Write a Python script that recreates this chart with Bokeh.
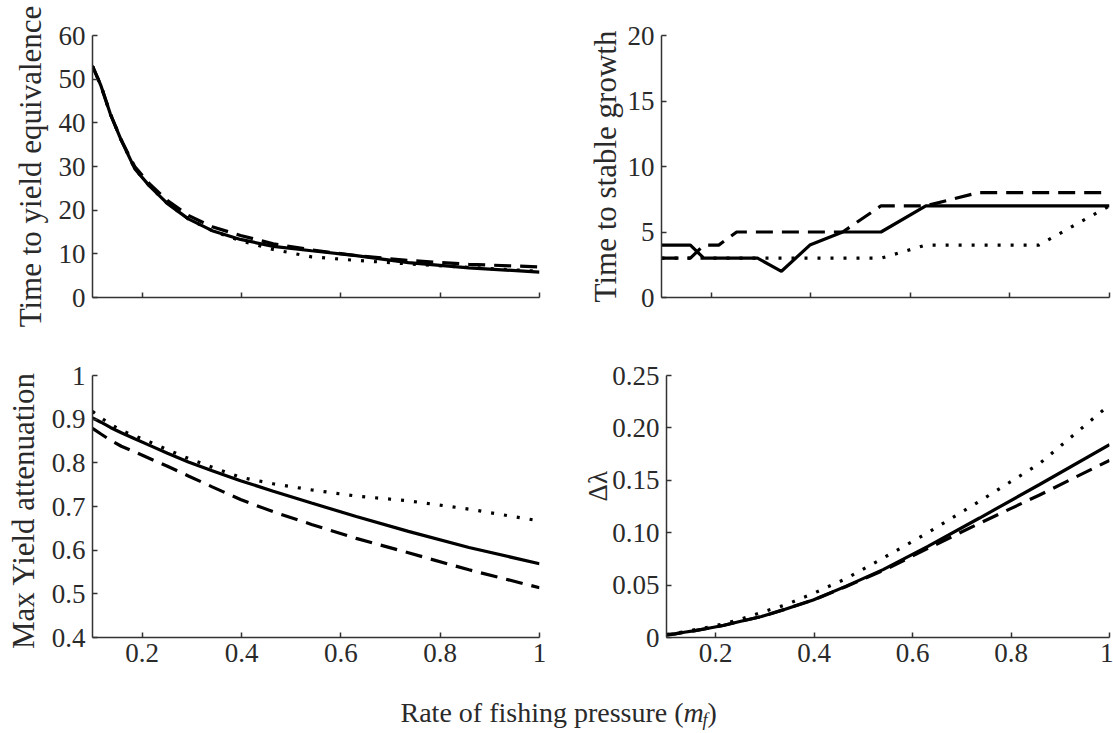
from bokeh.plotting import figure
from bokeh.layouts import column, row
from bokeh.models import Range1d, FixedTicker, Label
from bokeh.embed import file_html
from bokeh.resources import INLINE

# ---------------- data ----------------
m_f = [0.1, 0.117, 0.136, 0.158, 0.185, 0.215, 0.251, 0.293, 0.341, 0.398,
       0.464, 0.541, 0.631, 0.736, 0.858, 1.0]
x_ticks = [0.2, 0.4, 0.6, 0.8, 1.0]
x_tick_labels = ["0.2", "0.4", "0.6", "0.8", "1"]

# Time to yield equivalence
tye_solid = [53, 48.5, 42, 36, 29.5, 25.5, 21.5, 18, 15.3, 13.3, 11.7, 10.7, 9.6, 8.0, 6.8, 5.8]
tye_dashed = [53, 48.5, 42, 36, 30, 26, 22.2, 18.8, 16.2, 14.2, 12.3, 10.9, 9.6, 8.5, 7.6, 7.0]
tye_dotted = [53, 48.5, 42, 36, 29.5, 25.5, 21.5, 18, 15.3, 13.0, 11.0, 9.3, 8.5, 7.7, 6.9, 6.0]
tye_ticks = [0, 10, 20, 30, 40, 50, 60]
tye_labels = ["0", "10", "20", "30", "40", "50", "60"]

# Time to stable growth
tsg_solid = [4, 4, 4, 4, 3, 3, 3, 3, 2, 4, 5, 5, 7, 7, 7, 7]
tsg_dashed = [3, 3, 3, 3, 4, 4, 5, 5, 5, 5, 5, 7, 7, 8, 8, 8]
tsg_dotted = [3, 3, 3, 3, 3, 3, 3, 3, 3, 3, 3, 3, 4, 4, 4, 7]
tsg_ticks = [0, 5, 10, 15, 20]
tsg_labels = ["0", "5", "10", "15", "20"]

# Max yield attenuation
mya_solid = [0.903, 0.893, 0.881, 0.869, 0.855, 0.840, 0.822, 0.802, 0.782, 0.759,
             0.735, 0.708, 0.677, 0.643, 0.606, 0.569]
mya_dashed = [0.879, 0.866, 0.852, 0.838, 0.825, 0.810, 0.792, 0.770, 0.745, 0.716,
              0.688, 0.659, 0.627, 0.594, 0.555, 0.514]
mya_dotted = [0.918, 0.903, 0.889, 0.874, 0.862, 0.848, 0.830, 0.810, 0.790, 0.767,
              0.752, 0.738, 0.724, 0.713, 0.694, 0.667]
mya_ticks = [0.4, 0.5, 0.6, 0.7, 0.8, 0.9, 1.0]
mya_labels = ["0.4", "0.5", "0.6", "0.7", "0.8", "0.9", "1"]

# Delta lambda
dl_solid = [0.0025, 0.0035, 0.005, 0.0065, 0.0088, 0.0115, 0.0155, 0.020, 0.027, 0.0357,
            0.0488, 0.065, 0.087, 0.114, 0.146, 0.184]
dl_dashed = [0.0025, 0.0035, 0.005, 0.0065, 0.0088, 0.0115, 0.0155, 0.020, 0.027, 0.0357,
             0.0485, 0.064, 0.085, 0.109, 0.136, 0.169]
dl_dotted = [0.003, 0.004, 0.0055, 0.0075, 0.0098, 0.013, 0.0175, 0.024, 0.031, 0.042,
             0.056, 0.076, 0.100, 0.130, 0.166, 0.222]
dl_ticks = [0, 0.05, 0.10, 0.15, 0.20, 0.25]
dl_labels = ["0", "0.05", "0.10", "0.15", "0.20", "0.25"]

FONT = "Liberation Serif"
TXT = "#2a2a2a"
AX = "#333333"
TICK_FS = "27px"
LAB_FS = "31px"


def make_panel(width, height, bl, br, bt, bb, yr, yticks, ylabels, ylab,
               show_x_labels, series, ylab_standoff=10, lab_fs=LAB_FS):
    p = figure(width=width, height=height, output_backend="svg",
               toolbar_location=None, x_range=Range1d(0.1, 1.0),
               y_range=Range1d(*yr), min_border_left=bl, min_border_right=br,
               min_border_top=bt, min_border_bottom=bb)
    p.outline_line_color = None
    p.xgrid.visible = False
    p.ygrid.visible = False
    for ax in (p.xaxis[0], p.yaxis[0]):
        ax.axis_line_color = AX
        ax.axis_line_width = 1.5
        ax.major_tick_line_color = AX
        ax.major_tick_line_width = 1.5
        ax.major_tick_in = 5
        ax.major_tick_out = 0
        ax.minor_tick_line_color = None
        ax.major_label_text_font = FONT
        ax.major_label_text_font_size = TICK_FS
        ax.major_label_text_color = TXT
        ax.axis_label_text_font = FONT
        ax.axis_label_text_font_size = lab_fs
        ax.axis_label_text_font_style = "normal"
        ax.axis_label_text_color = TXT
    p.xaxis.ticker = FixedTicker(ticks=x_ticks)
    if show_x_labels:
        p.xaxis.major_label_overrides = dict(zip(x_ticks, x_tick_labels))
        p.xaxis.major_label_standoff = 6
    else:
        p.xaxis.major_label_overrides = {t: "" for t in x_ticks}
        p.xaxis.major_label_standoff = 0
    p.yaxis.ticker = FixedTicker(ticks=yticks)
    p.yaxis.major_label_overrides = dict(zip(yticks, ylabels))
    p.yaxis.major_label_standoff = 7
    p.yaxis.axis_label = ylab
    p.yaxis.axis_label_standoff = ylab_standoff
    solid, dashed, dotted = series
    p.line(m_f, dotted, line_color="black", line_width=3.2, line_dash="3 10")
    p.line(m_f, dashed, line_color="black", line_width=3.2, line_dash="17 9")
    p.line(m_f, solid, line_color="black", line_width=3.2)
    return p


W_L, W_R = 580, 533
tl = make_panel(W_L, 340, 92, 41, 35, 43, (0, 60), tye_ticks, tye_labels,
                "Time to yield equivalence", False, (tye_solid, tye_dashed, tye_dotted), 8)
tr = make_panel(W_R, 340, 81, 4, 35, 43, (0, 20), tsg_ticks, tsg_labels,
                "Time to stable growth", False, (tsg_solid, tsg_dashed, tsg_dotted), 2)
bl = make_panel(W_L, 353, 92, 41, 35, 56, (0.4, 1.0), mya_ticks, mya_labels,
                "Max  Yield attenuation", True, (mya_solid, mya_dashed, mya_dotted), 8)
br = make_panel(W_R, 353, 81, 4, 35, 56, (0, 0.25), dl_ticks, dl_labels,
                "\u00a0\u00a0\u00a0\u00a0\u00a0\u00a0Δλ", True,
                (dl_solid, dl_dashed, dl_dotted), -4, "27px")

# x-axis title strip
t = figure(width=1113, height=40, output_backend="svg", toolbar_location=None,
           x_range=Range1d(0, 1113), y_range=Range1d(0, 40),
           min_border=0, min_border_left=0, min_border_right=0,
           min_border_top=0, min_border_bottom=0)
t.axis.visible = False
t.grid.visible = False
t.outline_line_color = None
x0 = 400
parts = [
    ("Rate of fishing pressure (", x0, 21, "28px", "normal"),
    ("m", x0 + 283, 21, "28px", "italic"),
    ("f", x0 + 302, 14, "18px", "italic"),
    (")", x0 + 307, 21, "28px", "normal"),
]
for txt, xx, yy, fs, st in parts:
    t.add_layout(Label(x=xx, y=yy, x_units="screen", y_units="screen", text=txt,
                       text_font=FONT, text_font_size=fs, text_font_style=st,
                       text_color=TXT, text_baseline="middle", text_align="left"))

layout = column(row(tl, tr), row(bl, br), t)
open("out.html", "w").write(file_html(layout, INLINE))
